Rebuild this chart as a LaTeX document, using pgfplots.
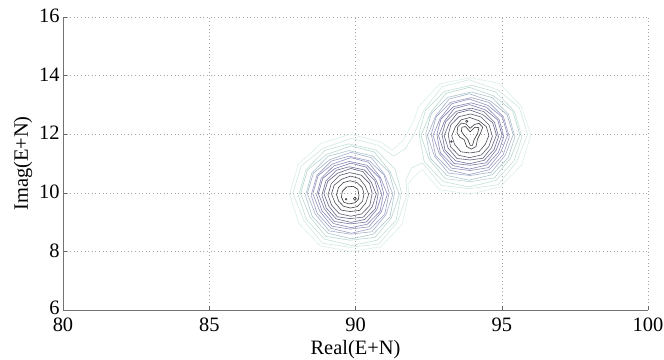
\documentclass[border=0pt]{standalone}
\usepackage{fontspec}
\setmainfont{Liberation Serif}
\usepackage{pgfplots}
\pgfplotsset{compat=1.18}
\definecolor{c1}{rgb}{0.86,0.94,0.90}
\definecolor{c2}{rgb}{0.81,0.91,0.87}
\definecolor{c3}{rgb}{0.76,0.88,0.84}
\definecolor{c4}{rgb}{0.72,0.84,0.82}
\definecolor{c5}{rgb}{0.68,0.78,0.80}
\definecolor{c6}{rgb}{0.65,0.70,0.79}
\definecolor{c7}{rgb}{0.61,0.63,0.77}
\definecolor{c8}{rgb}{0.57,0.57,0.74}
\definecolor{c9}{rgb}{0.52,0.52,0.70}
\definecolor{c10}{rgb}{0.47,0.47,0.65}
\definecolor{c11}{rgb}{0.43,0.43,0.58}
\definecolor{c12}{rgb}{0.39,0.39,0.51}
\definecolor{c13}{rgb}{0.35,0.35,0.43}
\definecolor{c14}{rgb}{0.30,0.30,0.35}
\definecolor{c15}{rgb}{0.25,0.25,0.28}
\definecolor{c16}{rgb}{0.20,0.20,0.22}
\begin{document}
\begin{tikzpicture}
\useasboundingbox (-63bp,-50bp) rectangle (601bp,310bp);
\begin{axis}[
 at={(0,0)}, anchor=south west, scale only axis, width=585bp, height=293bp,
 xmin=80, xmax=100, ymin=6, ymax=16,
 xtick={80,85,90,95,100}, ytick={6,8,10,12,14,16},
 yticklabels={\raisebox{3bp}{6},8,10,12,14,16},
 axis lines=left, axis line style={-, draw=black!55, line width=0.9bp},
 tick align=inside, major tick length=4bp, tick style={black!60, line width=0.5bp},
 grid=major, grid style={gray!70, line width=0.5bp, dash pattern=on 0.6bp off 3bp},
 /pgf/number format/assume math mode=true,
 ticklabel style={font=\fontsize{20.5}{24}\selectfont},
 xticklabel style={yshift=-4bp},
 yticklabel style={yshift=1bp},
 label style={font=\fontsize{20.5}{24}\selectfont},
 xlabel style={yshift=-2bp},
 xlabel={Real(E+N)}, ylabel={Imag(E+N)},
 every axis plot/.append style={line width=0.6bp, line join=round},
]
% level 1 (outer, joined)
\addplot[c1] coordinates {(90.86,11.74) (89.82,12.00) (88.82,11.68) (88.04,10.97) (87.74,9.95) (88.07,8.95) (88.80,8.19) (89.82,8.00) (90.85,8.15) (91.60,8.93) (91.82,9.95) (91.79,10.30) (92.06,10.60) (92.28,10.80) (92.86,10.11) (93.92,9.95) (94.94,10.20) (95.68,10.95) (96.00,11.97) (95.66,12.97) (94.92,13.73) (93.92,13.93) (92.88,13.72) (92.17,12.95) (91.99,12.47) (91.80,12.10) (91.62,11.78) (91.25,11.45) (90.86,11.74)};
% level 2 (joined)
\addplot[c2] coordinates {(90.78,11.62) (89.86,11.86) (88.89,11.52) (88.14,10.91) (87.86,9.99) (88.23,9.06) (88.86,8.28) (89.82,8.14) (90.80,8.25) (91.45,9.02) (91.76,9.95) (91.72,10.45) (91.92,10.85) (92.29,11.02) (92.94,10.25) (93.92,10.14) (94.88,10.28) (95.51,11.06) (95.88,11.99) (95.60,12.91) (94.85,13.52) (93.88,13.86) (92.96,13.62) (92.35,12.84) (91.98,11.95) (91.70,11.50) (91.30,11.25) (90.78,11.62)};
% ---------- blob A ----------
\addplot[c3] coordinates {(91.57,10.02) (91.35,10.81) (90.70,11.46) (89.77,11.67) (88.96,11.45) (88.31,10.79) (88.05,9.90) (88.32,9.09) (88.94,8.42) (89.87,8.20) (90.73,8.38) (91.39,9.06) (91.57,10.02)};
\addplot[c4] coordinates {(91.50,9.95) (91.18,10.72) (90.65,11.39) (89.85,11.60) (89.02,11.31) (88.36,10.78) (88.12,9.98) (88.44,9.18) (88.99,8.51) (89.82,8.38) (90.67,8.48) (91.23,9.15) (91.50,9.95)};
\addplot[c5] coordinates {(91.34,10.01) (91.15,10.70) (90.58,11.26) (89.78,11.44) (89.07,11.25) (88.51,10.68) (88.29,9.91) (88.52,9.20) (89.06,8.62) (89.86,8.43) (90.61,8.59) (91.18,9.18) (91.34,10.01)};
\addplot[c6] coordinates {(91.28,9.95) (91.00,10.62) (90.54,11.20) (89.85,11.38) (89.12,11.13) (88.56,10.67) (88.35,9.98) (88.62,9.28) (89.10,8.70) (89.82,8.59) (90.56,8.67) (91.04,9.25) (91.28,9.95)};
\addplot[c7] coordinates {(91.15,10.00) (90.98,10.60) (90.48,11.09) (89.78,11.25) (89.17,11.08) (88.68,10.59) (88.48,9.91) (88.69,9.30) (89.16,8.79) (89.86,8.62) (90.51,8.77) (91.00,9.27) (91.15,10.00)};
\addplot[c8] coordinates {(91.09,9.95) (90.85,10.53) (90.45,11.04) (89.84,11.20) (89.21,10.98) (88.72,10.58) (88.54,9.97) (88.78,9.37) (89.19,8.86) (89.82,8.76) (90.46,8.84) (90.88,9.34) (91.09,9.95)};
\addplot[c9] coordinates {(90.96,9.99) (90.82,10.51) (90.39,10.94) (89.79,11.07) (89.26,10.92) (88.83,10.50) (88.67,9.92) (88.85,9.39) (89.25,8.95) (89.85,8.81) (90.41,8.93) (90.84,9.37) (90.96,9.99)};
\addplot[c10] coordinates {(90.90,9.95) (90.70,10.44) (90.36,10.88) (89.84,11.01) (89.30,10.83) (88.88,10.49) (88.73,9.97) (88.93,9.46) (89.28,9.02) (89.82,8.94) (90.37,9.00) (90.73,9.43) (90.90,9.95)};
\addplot[c11] coordinates {(90.78,9.99) (90.66,10.42) (90.30,10.78) (89.79,10.89) (89.35,10.77) (88.99,10.41) (88.85,9.92) (89.00,9.48) (89.34,9.11) (89.85,8.99) (90.32,9.09) (90.68,9.46) (90.78,9.99)};
\addplot[c12] coordinates {(90.71,9.95) (90.54,10.36) (90.26,10.72) (89.84,10.83) (89.39,10.67) (89.05,10.39) (88.92,9.97) (89.09,9.54) (89.38,9.18) (89.82,9.12) (90.27,9.17) (90.57,9.52) (90.71,9.95)};
\addplot[c13] coordinates {(90.57,9.98) (90.48,10.32) (90.20,10.60) (89.80,10.69) (89.45,10.59) (89.17,10.31) (89.06,9.93) (89.18,9.58) (89.44,9.29) (89.84,9.20) (90.21,9.28) (90.49,9.57) (90.57,9.98)};
\addplot[c14] coordinates {(90.45,9.95) (90.33,10.24) (90.13,10.49) (89.83,10.57) (89.52,10.46) (89.27,10.26) (89.18,9.96) (89.30,9.66) (89.51,9.41) (89.82,9.36) (90.14,9.40) (90.35,9.65) (90.45,9.95)};
\addplot[c15] coordinates {(90.29,9.97) (90.23,10.18) (90.05,10.35) (89.81,10.41) (89.59,10.35) (89.42,10.18) (89.35,9.94) (89.42,9.72) (89.59,9.54) (89.83,9.48) (90.06,9.53) (90.24,9.71) (90.29,9.97)};
\addplot[c16] coordinates {(90.12,9.92) (90.08,10.12) (89.92,10.22) (89.70,10.20) (89.55,10.05) (89.52,9.85) (89.60,9.68) (89.78,9.62) (89.98,9.66) (90.10,9.78) (90.12,9.92)};
\addplot[c16] coordinates {(90.03,9.80) (89.98,9.86) (89.93,9.80) (89.98,9.74) (90.03,9.80)};
\addplot[c16] coordinates {(89.71,9.78) (89.68,9.81) (89.65,9.78) (89.68,9.75) (89.71,9.78)};
% ---------- blob B ----------
\addplot[c3] coordinates {(92.17,12.02) (92.39,12.81) (93.04,13.46) (93.97,13.67) (94.78,13.45) (95.43,12.79) (95.69,11.90) (95.42,11.09) (94.80,10.42) (93.87,10.20) (93.01,10.38) (92.35,11.06) (92.17,12.02)};
\addplot[c4] coordinates {(92.24,11.95) (92.56,12.72) (93.09,13.39) (93.89,13.60) (94.72,13.31) (95.38,12.78) (95.62,11.98) (95.30,11.18) (94.75,10.51) (93.92,10.38) (93.07,10.48) (92.51,11.15) (92.24,11.95)};
\addplot[c5] coordinates {(92.40,12.01) (92.59,12.70) (93.16,13.26) (93.96,13.44) (94.67,13.25) (95.23,12.68) (95.45,11.91) (95.22,11.20) (94.68,10.62) (93.88,10.43) (93.13,10.59) (92.56,11.18) (92.40,12.01)};
\addplot[c6] coordinates {(92.46,11.95) (92.74,12.62) (93.20,13.20) (93.89,13.38) (94.62,13.13) (95.18,12.67) (95.39,11.98) (95.12,11.28) (94.64,10.70) (93.92,10.59) (93.18,10.67) (92.70,11.25) (92.46,11.95)};
\addplot[c7] coordinates {(92.59,12.00) (92.76,12.60) (93.26,13.09) (93.96,13.25) (94.57,13.08) (95.06,12.59) (95.26,11.91) (95.05,11.30) (94.58,10.79) (93.88,10.62) (93.23,10.77) (92.74,11.27) (92.59,12.00)};
\addplot[c8] coordinates {(92.65,11.95) (92.89,12.53) (93.29,13.04) (93.90,13.20) (94.53,12.98) (95.02,12.58) (95.20,11.97) (94.96,11.37) (94.55,10.86) (93.92,10.76) (93.28,10.84) (92.86,11.34) (92.65,11.95)};
\addplot[c9] coordinates {(92.78,11.99) (92.92,12.51) (93.35,12.94) (93.95,13.07) (94.48,12.92) (94.91,12.50) (95.07,11.92) (94.89,11.39) (94.49,10.95) (93.89,10.81) (93.33,10.93) (92.90,11.37) (92.78,11.99)};
\addplot[c10] coordinates {(92.84,11.95) (93.04,12.44) (93.38,12.88) (93.90,13.01) (94.44,12.83) (94.86,12.49) (95.01,11.97) (94.81,11.46) (94.46,11.02) (93.92,10.94) (93.37,11.00) (93.01,11.43) (92.84,11.95)};
\addplot[c11] coordinates {(92.96,11.99) (93.08,12.42) (93.44,12.78) (93.95,12.89) (94.39,12.77) (94.75,12.41) (94.89,11.92) (94.74,11.48) (94.40,11.11) (93.89,10.99) (93.42,11.09) (93.06,11.46) (92.96,11.99)};
\addplot[c12] coordinates {(93.03,11.95) (93.20,12.36) (93.48,12.72) (93.90,12.83) (94.35,12.67) (94.69,12.39) (94.82,11.97) (94.65,11.54) (94.36,11.18) (93.92,11.12) (93.47,11.17) (93.17,11.52) (93.03,11.95)};
\addplot[c13] coordinates {(93.17,11.98) (93.26,12.32) (93.54,12.60) (93.94,12.69) (94.29,12.59) (94.57,12.31) (94.68,11.93) (94.56,11.58) (94.30,11.29) (93.90,11.20) (93.53,11.28) (93.25,11.57) (93.17,11.98)};
\addplot[c14] coordinates {(93.29,11.95) (93.41,12.24) (93.61,12.49) (93.91,12.57) (94.22,12.46) (94.47,12.26) (94.56,11.96) (94.44,11.66) (94.23,11.41) (93.92,11.36) (93.60,11.40) (93.39,11.65) (93.29,11.95)};
\addplot[c15] coordinates {(93.47,12.05) (93.50,12.26) (93.62,12.38) (93.78,12.35) (93.92,12.20) (94.06,12.33) (94.22,12.37) (94.35,12.24) (94.28,12.05) (94.17,11.83) (94.12,11.58) (93.96,11.49) (93.80,11.58) (93.71,11.82) (93.56,11.90) (93.47,12.05)};
\addplot[c16] coordinates {(93.62,12.10) (93.64,12.24) (93.76,12.26) (93.92,12.08) (94.08,12.24) (94.22,12.22) (94.18,12.04) (94.05,11.80) (94.00,11.62) (93.92,11.62) (93.84,11.82) (93.70,11.98) (93.62,12.10)};
\addplot[c16] coordinates {(93.84,12.44) (93.80,12.48) (93.76,12.44) (93.80,12.40) (93.84,12.44)};
\addplot[c16] coordinates {(93.31,11.75) (93.28,11.78) (93.25,11.75) (93.28,11.72) (93.31,11.75)};
\end{axis}
\end{tikzpicture}
\end{document}
